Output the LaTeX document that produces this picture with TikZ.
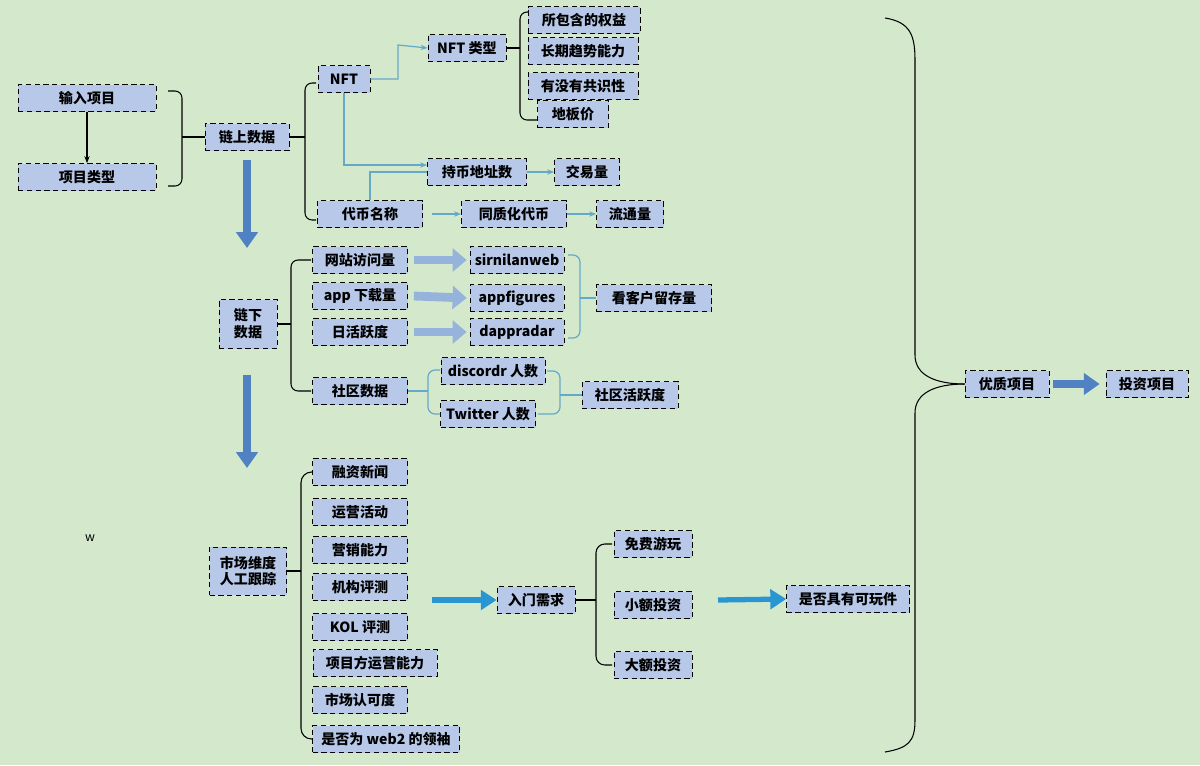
\documentclass[tikz,border=0pt]{standalone}
\usepackage{fontspec}
\setmainfont{Noto Sans CJK SC}
\usetikzlibrary{arrows.meta,calc}
\definecolor{bg}{RGB}{212,232,204}
\definecolor{bx}{RGB}{183,200,232}
\definecolor{ln}{RGB}{100,170,200}
\definecolor{ba}{RGB}{80,130,195}
\definecolor{ca}{RGB}{40,150,210}
\begin{document}
\begin{tikzpicture}[x=0.02cm,y=-0.02cm,
 b/.style={draw,densely dashed,fill=bx,inner sep=0pt,minimum height=27*0.02cm,font=\fontsize{8}{9.5}\selectfont\bfseries,align=center},
 bl/.style={draw=black,line width=0.6pt},
 bb/.style={draw=ln,line width=0.7pt},
 tl/.style={ln,line width=0.7pt,-{Stealth[length=4pt]}},
 big/.style={ba,line width=4pt,-{Triangle[length=9pt,width=12pt]}},
 blk/.style={ba!60,line width=5pt,-{Triangle[length=8pt,width=13pt]}},
 cy/.style={ca,line width=3pt,-{Triangle[length=9pt,width=11pt]}}]
\fill[bg] (0,0) rectangle (1200,765);
\useasboundingbox (0,0) rectangle (1200,765);
\newcommand{\bx}[4]{\node[b,minimum width=#3*0.02cm] (#1) at #2 {#4};}
\bx{in}{(87,98)}{138}{输入项目}
\bx{lx}{(87,177)}{138}{项目类型}
\bx{ls}{(247,137)}{84}{链上数据}
\bx{nft}{(344,79)}{52}{NFT}
\bx{nlx}{(467,48)}{78}{NFT 类型}
\bx{q1}{(584,20)}{112}{所包含的权益}
\bx{q2}{(583,51)}{110}{长期趋势能力}
\bx{q3}{(583,86)}{110}{有没有共识性}
\bx{q4}{(573,114)}{71}{地板价}
\bx{cb}{(477,172)}{99}{持币地址数}
\bx{jy}{(587,172)}{65}{交易量}
\bx{db}{(370,214)}{105}{代币名称}
\bx{tz}{(514,214)}{105}{同质化代币}
\bx{lt}{(630,214)}{67}{流通量}
\bx{w1}{(360,260)}{95}{网站访问量}
\bx{w2}{(360,296)}{95}{app 下载量}
\bx{w3}{(360,332)}{95}{日活跃度}
\bx{s1}{(517,260)}{94}{sirnilanweb}
\bx{s2}{(517,298)}{94}{appfigures}
\bx{s3}{(517,332)}{94}{dappradar}
\bx{kh}{(654,298)}{115}{看客户留存量}
\node[b,minimum width=58*0.02cm,minimum height=49*0.02cm] (lx2) at (248,324) {链下\\数据};
\bx{sq}{(360,391)}{95}{社区数据}
\bx{dc}{(493,371)}{104}{discordr 人数}
\bx{tw}{(488,414)}{95}{Twitter 人数}
\bx{hy}{(630,395)}{96}{社区活跃度}
\node[b,minimum width=77*0.02cm,minimum height=48*0.02cm] (sc) at (248,571) {市场维度\\人工跟踪};
\bx{m1}{(360,472)}{95}{融资新闻}
\bx{m2}{(360,512)}{95}{运营活动}
\bx{m3}{(360,550)}{95}{营销能力}
\bx{m4}{(360,587)}{95}{机构评测}
\bx{m5}{(360,627)}{95}{KOL 评测}
\bx{m6}{(375,663)}{124}{项目方运营能力}
\bx{m7}{(360,700)}{95}{市场认可度}
\bx{m8}{(386,739)}{147}{是否为 web2 的领袖}
\bx{rm}{(536,600)}{78}{入门需求}
\bx{f1}{(653,544)}{78}{免费游玩}
\bx{f2}{(653,605)}{78}{小额投资}
\bx{f3}{(653,665)}{78}{大额投资}
\bx{kw}{(848,599)}{123}{是否具有可玩件}
\bx{yz}{(1007,384)}{84}{优质项目}
\bx{tx}{(1147,384)}{82}{投资项目}
\node[font=\fontsize{7}{8}\selectfont] (w) at (90,538) {w};
\draw[bl,-{Stealth[length=4pt]}] (in) -- (lx);
\draw[bl,rounded corners=4pt] (168,91) -- (182,91) -- (182,186) -- (168,186);
\draw[bl] (182,137) -- (ls.west);
\draw[bl,rounded corners=4pt] (316,83) -- (305,83) -- (305,220) -- (316,220);
\draw[bl] (305,137) -- (ls.east);
\draw[bl,rounded corners=4pt] (528,12) -- (520,12) -- (520,120) -- (538,120);
\draw[bl] (520,48) -- (nlx.east);
\draw[bl,rounded corners=4pt] (311,260) -- (291,260) -- (291,391) -- (311,391);
\draw[bl] (291,324) -- (lx2.east);
\draw[bb,rounded corners=4pt] (568,255) -- (580,255) -- (580,338) -- (568,338);
\draw[bb] (580,298) -- (kh.west);
\draw[bb,rounded corners=4pt] (440,370) -- (428,370) -- (428,414) -- (440,414);
\draw[bb] (428,391) -- (sq.east);
\draw[bb,rounded corners=4pt] (547,371) -- (560,371) -- (560,414) -- (538,414);
\draw[bb] (560,395) -- (hy.west);
\draw[bl,rounded corners=6pt] (312,472) -- (301,472) -- (301,739) -- (312,739);
\draw[bl] (301,571) -- (sc.east);
\draw[bl,rounded corners=5pt] (612,544) -- (596,544) -- (596,665) -- (612,665);
\draw[bl] (596,600) -- (rm.east);
\draw[bl] (885,18) .. controls (910,22) and (915,35) .. (915,60) -- (915,355) .. controls (915,375) and (935,384) .. (yz.west);
\draw[bl] (yz.west) .. controls (935,384) and (915,393) .. (915,413) -- (915,720) .. controls (915,742) and (908,748) .. (885,752);
\draw[tl] (nft.east) -- (398,79) -- (398,45) -- (nlx.west);
\draw[tl] (nft.south) -- (344,165) -- (cb.west |- 0,165);
\draw[ln,line width=0.7pt] (db.north) -- (370,172) -- (cb.west);
\draw[tl] (cb) -- (jy);
\draw[tl] (432,214) -- (tz.west);
\draw[tl] (tz) -- (lt);
\draw[big] (247,160) -- (247,248);
\draw[big] (247,375) -- (247,468);
\draw[blk] ($(w1.east)+(6,0)$) -- ($(s1.west)+(-3,0)$);
\draw[blk] ($(w2.east)+(6,0)$) -- ($(s2.west)+(-3,0)$);
\draw[blk] ($(w3.east)+(6,0)$) -- ($(s3.west)+(-3,0)$);
\draw[cy] (432,600) -- (rm.west);
\draw[cy] (718,600) -- (kw.west);
\draw[big] ($(yz.east)+(4,0)$) -- ($(tx.west)+(-6,0)$);
\end{tikzpicture}
\end{document}
